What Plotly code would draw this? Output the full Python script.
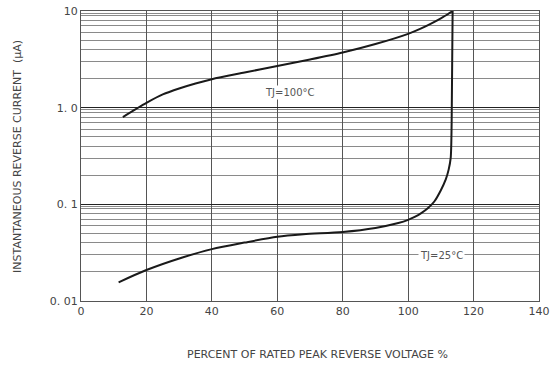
import math
import plotly.graph_objects as go

# TJ = 100 °C curve
x_100 = [12.8, 20, 25, 30, 35, 40, 50, 60, 70, 80, 90, 100, 104, 107, 110, 112, 113.6]
y_100 = [0.80, 1.12, 1.37, 1.58, 1.78, 1.97, 2.31, 2.70, 3.15, 3.72, 4.55, 5.8, 6.6, 7.4, 8.4, 9.2, 10]

# TJ = 25 °C curve
x_25 = [11.5, 20, 31, 40, 50, 60, 68, 80, 90, 97, 100, 102, 104, 106, 108, 110, 111.5, 112.4, 113.0, 113.3, 113.6]
y_25 = [0.0156, 0.0209, 0.0282, 0.0344, 0.0402, 0.0462, 0.049, 0.0518, 0.057, 0.064, 0.069, 0.074, 0.081,
        0.091, 0.107, 0.140, 0.181, 0.23, 0.30, 0.7, 10]

x_ticks = [0, 20, 40, 60, 80, 100, 120, 140]
y_ticks = [0.01, 0.1, 1, 10]
y_tick_text = ["0. 01", "0. 1", "1. 0", "10"]

labels = ["TJ=100°C", "TJ=25°C"]
label_x = [64, 110.3]
label_y = [1.42, 0.0293]

minor_vals = []
for d in [0.01, 0.1, 1]:
    for m in [2, 3, 4, 5, 6, 7, 8, 9, 9.5]:
        minor_vals.append(m * d)

FONT = "DejaVu Sans"
TXT = "#444444"

fig = go.Figure()
for xs, ys in [(x_100, y_100), (x_25, y_25)]:
    fig.add_trace(go.Scatter(x=xs, y=ys, mode="lines",
                             line=dict(color="#1a1a1a", width=2, shape="spline", smoothing=0.8),
                             showlegend=False, hoverinfo="skip"))

for t, lx, ly in zip(labels, label_x, label_y):
    fig.add_annotation(x=lx, y=math.log10(ly), xref="x", yref="y", text=t, showarrow=False,
                       font=dict(family=FONT, size=10, color="#555555"), bgcolor="white",
                       yanchor="middle", xanchor="center")

fig.add_annotation(x=0.516, y=-0.186, xref="paper", yref="paper", yanchor="middle",
                   text="PERCENT OF RATED PEAK REVERSE VOLTAGE %",
                   showarrow=False, font=dict(family=FONT, size=11, color=TXT))
fig.add_annotation(x=-0.14, y=0.5, xref="paper", yref="paper", text="INSTANTANEOUS REVERSE CURRENT  (μA)",
                   textangle=-90, showarrow=False, font=dict(family=FONT, size=11, color=TXT),
                   xanchor="center", yanchor="middle")

fig.update_layout(
    width=557, height=369,
    margin=dict(l=81, r=18, t=11, b=68, autoexpand=False),
    paper_bgcolor="white", plot_bgcolor="white",
    font=dict(family=FONT, size=11, color=TXT),
    xaxis=dict(range=[0, 140], tickvals=x_ticks, showgrid=True, gridcolor="#555555", gridwidth=1,
               showline=True, linecolor="#555555", linewidth=1, mirror=True, zeroline=False,
               automargin=False, ticks="", tickfont=dict(family=FONT, size=11, color=TXT)),
    yaxis=dict(type="log", range=[-2, 1], tickvals=y_ticks, ticktext=y_tick_text,
               showgrid=True, gridcolor="#222222", gridwidth=1,
               showline=True, linecolor="#555555", linewidth=1, mirror=True, zeroline=False,
               automargin=False, ticks="", tickfont=dict(family=FONT, size=11, color=TXT),
               minor=dict(tickvals=minor_vals, showgrid=True, gridcolor="#8a8a8a", gridwidth=1, ticks="")),
)

fig.write_html("out.html", config={"displayModeBar": False},
               post_script="document.body.style.margin='0px';document.body.style.overflow='hidden';")
